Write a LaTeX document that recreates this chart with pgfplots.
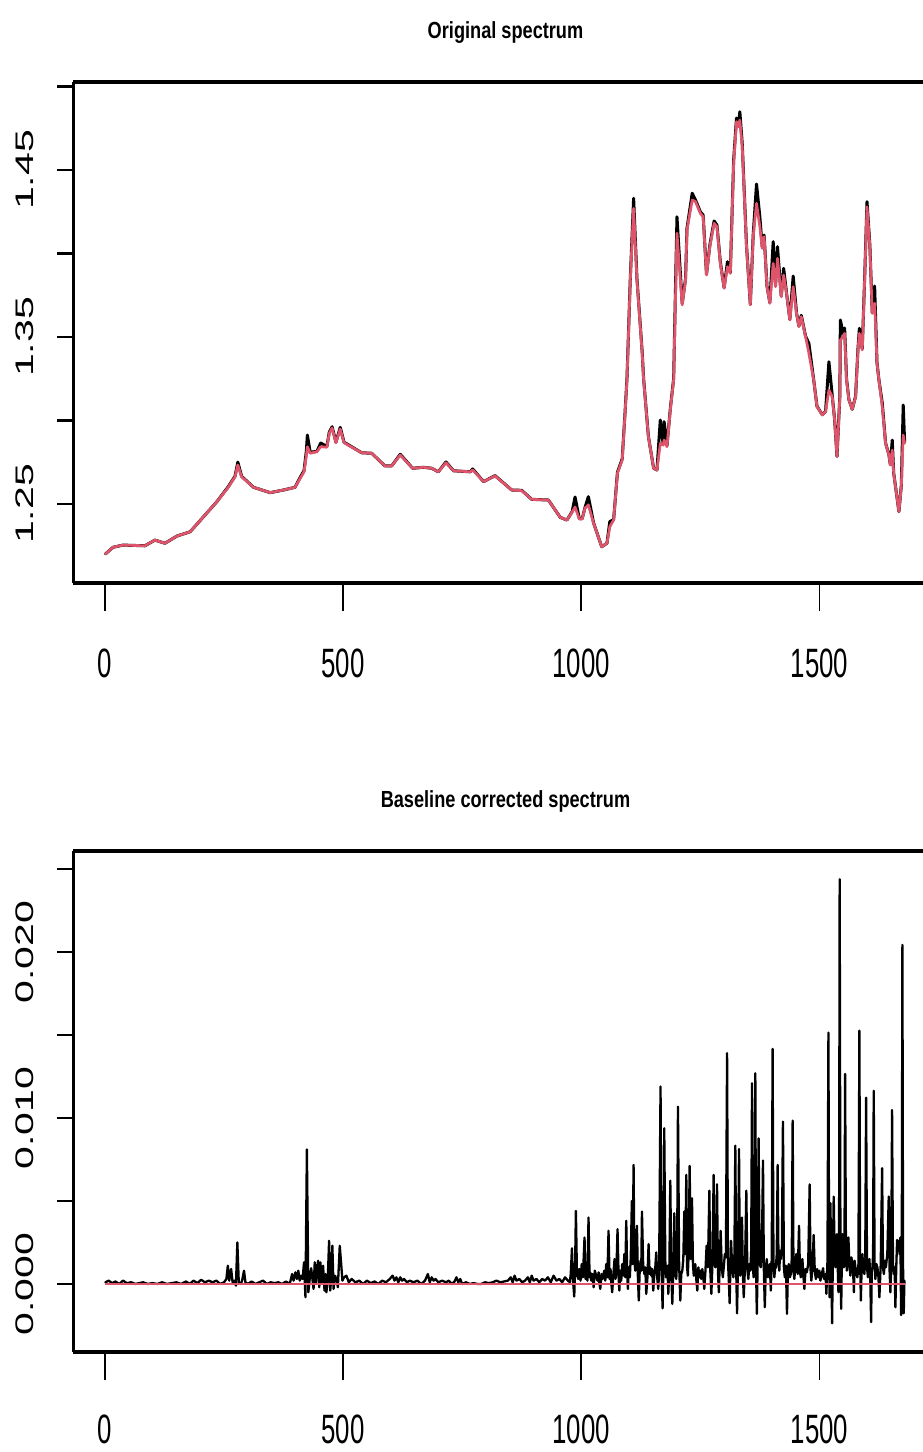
\documentclass[border=0pt]{standalone}
\usepackage{fontspec}
\setmainfont{Liberation Sans}
\usepackage{graphicx}
\usepackage{pgfplots}
\usepackage{pgfplotstable}
\pgfplotsset{compat=1.18}
\definecolor{rred}{HTML}{DF536B}
\newcommand{\xl}[1]{\scalebox{0.63}[1]{#1}}
\newcommand{\yl}[1]{\scalebox{1}[0.62]{#1}}
\newcommand{\ttl}[1]{\scalebox{0.78}[1]{\bfseries #1}}

\pgfplotstableread{
x r b
1 1.2201 1.2201
17 1.2241 1.2241
38 1.2254 1.2254
84 1.2250 1.2250
105 1.2284 1.2284
126 1.2265 1.2265
151 1.2308 1.2308
179 1.2334 1.2334
207 1.2424 1.2424
235 1.2514 1.2514
259 1.2600 1.2604
273 1.2663 1.2666
279 1.2734 1.2751
287 1.2663 1.2666
312 1.2600 1.2600
347 1.2568 1.2568
375 1.2584 1.2584
399 1.2600 1.2600
410 1.2654 1.2660
418 1.2693 1.2700
423 1.2793 1.2820
425 1.2843 1.2913
431 1.2804 1.2810
445 1.2813 1.2815
453 1.2843 1.2865
466 1.2840 1.2845
471 1.2923 1.2930
477 1.2955 1.2963
485 1.2867 1.2870
494 1.2949 1.2959
502 1.2867 1.2870
522 1.2834 1.2836
539 1.2807 1.2807
560 1.2804 1.2804
588 1.2728 1.2728
602 1.2728 1.2728
620 1.2793 1.2798
646 1.2714 1.2714
669 1.2720 1.2720
686 1.2714 1.2714
700 1.2693 1.2693
716 1.2747 1.2752
732 1.2699 1.2699
767 1.2693 1.2693
772 1.2704 1.2710
795 1.2634 1.2634
819 1.2668 1.2670
854 1.2584 1.2584
875 1.2580 1.2582
896 1.2528 1.2528
931 1.2524 1.2524
956 1.2420 1.2420
970 1.2404 1.2404
981 1.2452 1.2455
987 1.2482 1.2542
996 1.2410 1.2412
1002 1.2410 1.2412
1008 1.2476 1.2480
1015 1.2494 1.2544
1026 1.2384 1.2386
1043 1.2244 1.2244
1054 1.2265 1.2265
1060 1.2364 1.2395
1068 1.2404 1.2406
1076 1.2684 1.2690
1086 1.2763 1.2770
1092 1.3043 1.3050
1096 1.3243 1.3250
1103 1.3841 1.3850
1110 1.4271 1.4331
1117 1.3841 1.3850
1128 1.3402 1.3410
1131 1.3243 1.3250
1141 1.2903 1.2905
1152 1.2714 1.2714
1159 1.2704 1.2704
1166 1.2863 1.3003
1172 1.2853 1.2860
1174 1.2883 1.2993
1180 1.2843 1.2850
1187 1.3063 1.3070
1194 1.3243 1.3250
1201 1.4121 1.4220
1212 1.3692 1.3700
1219 1.3841 1.3850
1222 1.4141 1.4150
1233 1.4320 1.4361
1240 1.4310 1.4320
1250 1.4241 1.4250
1256 1.4220 1.4230
1263 1.3871 1.3875
1270 1.4041 1.4050
1279 1.4181 1.4195
1285 1.4161 1.4170
1292 1.3941 1.3950
1300 1.3792 1.3795
1307 1.3921 1.3951
1313 1.3881 1.3885
1320 1.4540 1.4560
1326 1.4789 1.4811
1330 1.4759 1.4770
1333 1.4799 1.4849
1338 1.4640 1.4660
1347 1.4041 1.4050
1355 1.3692 1.3695
1361 1.4101 1.4110
1368 1.4301 1.4416
1375 1.4161 1.4220
1380 1.4031 1.4040
1384 1.4101 1.4111
1390 1.3801 1.3805
1396 1.3702 1.3705
1403 1.3941 1.4071
1408 1.3801 1.3810
1412 1.3971 1.4041
1420 1.3741 1.3745
1425 1.3871 1.3911
1431 1.3762 1.3765
1438 1.3602 1.3605
1445 1.3801 1.3865
1452 1.3642 1.3645
1457 1.3562 1.3565
1462 1.3622 1.3630
1471 1.3502 1.3505
1478 1.3402 1.3462
1488 1.3243 1.3245
1495 1.3083 1.3085
1506 1.3033 1.3035
1513 1.3053 1.3055
1520 1.3183 1.3352
1527 1.3143 1.3150
1532 1.3003 1.3005
1537 1.2783 1.2785
1543 1.3143 1.3150
1544 1.3482 1.3602
1550 1.3502 1.3520
1553 1.3522 1.3554
1557 1.3243 1.3250
1562 1.3123 1.3125
1569 1.3067 1.3067
1576 1.3143 1.3145
1581 1.3422 1.3430
1584 1.3522 1.3552
1590 1.3422 1.3430
1595 1.3841 1.3850
1600 1.4280 1.4310
1606 1.4041 1.4050
1611 1.3642 1.3645
1616 1.3702 1.3805
1621 1.3343 1.3345
1625 1.3243 1.3245
1632 1.3083 1.3105
1639 1.2863 1.2865
1646 1.2793 1.2795
1649 1.2734 1.2736
1653 1.2823 1.2883
1656 1.2684 1.2686
1667 1.2454 1.2454
1672 1.2604 1.2610
1676 1.2913 1.3093
1679 1.2863 1.2870
}\topdata

\pgfplotstableread{
x y
1 0.0001
8 0.0002
15 0.00005
22 0.00015
30 0.0
38 0.0002
46 0.00005
55 0.0001
64 0.0
72 0.00005
80 0.0001
90 0.0
100 0.00005
110 0.0
120 0.0001
130 0.0
140 0.00005
150 0.0001
160 0.0
170 0.00015
178 0.0
186 0.0002
194 0.00005
202 0.00025
210 0.0001
218 0.0002
226 0.0001
234 0.0002
242 0.0
250 0.0001
255 0.0003
258 0.0011
261 0.0002
265 0.0009
268 0.0001
272 0.0002
275 -0.0001
278 0.0025
281 0.0001
285 0.0
288 0.0002
292 0.0008
295 0.0001
300 0.0
308 0.00015
316 0.0
324 0.0001
332 0.0002
340 0.0
348 0.0001
356 0.00005
364 0.0001
372 0.0
380 0.00015
388 0.0
393 0.0006
396 0.0002
400 0.0007
403 0.0003
406 0.0008
409 0.0002
412 0.0005
415 0.0003
418 0.0013
421 -0.0008
424 0.0081
427 -0.0005
430 0.0003
433 0.00095
436 0.0002
438 -0.0003
440.5 0.0013
443 0.0
445 0.0008
447.5 0.0014
450 -0.0002
452.4 0.0013
455 0.0001
458 0.0011
461 -0.0004
463 0.0006
465 -0.0005
468 0.0004
470.6 0.0026
473 -0.0004
475 0.0003
477.5 0.0023
480 -0.0003
483 0.0005
486 0.0003
489 -0.0002
493 0.0023
496 0.0012
498.6 0.0002
502 0.0004
507 0.0005
512 0.0001
518 0.0003
526 0.0001
534 0.0002
542 0.0
550 0.0002
558 0.00005
566 0.00015
574 0.0
582 0.0002
590 0.0001
598 0.0003
604 0.0005
608 0.0002
612 0.0004
616 0.0001
620 0.0004
624 0.0002
628 0.0003
634 0.0001
640 0.0002
648 0.0001
656 0.0002
664 0.0
672 0.0002
678 0.0006
682 0.0001
686 0.0004
690 0.0002
694 0.0003
700 0.0001
708 0.0002
716 0.0001
722 0.0002
728 0.0
734 0.00015
738 0.0004
742 0.0001
746 0.0003
750 0.0
758 0.0001
766 0.0
774 0.00005
782 0.0
790 0.0
798 0.0001
806 0.00005
814 0.0001
822 0.0002
830 0.0001
838 0.00015
846 0.0002
852 0.0004
856 0.0001
860 0.0005
864 0.0002
870 0.0003
876 0.0001
882 0.0002
888 0.0004
892 0.0001
896 0.0005
900 0.0002
906 0.0003
912 0.0001
918 0.0003
924 0.0002
930 0.0004
936 0.0001
942 0.0005
948 0.0002
954 0.0003
960 0.0001
966 0.0004
972 0.0002
976 0.0001
978 0.0006
980.5 0.00215
982.5 0.0003
985.3 -0.00076
987 0.0008
988.8 0.0044
991 0.0006
993.7 0.0003
996 0.0009
998.5 0.0002
1001 0.0012
1003.5 0.0004
1006.9 0.0028
1009 0.0003
1011 0.0007
1013 0.0002
1015.3 0.0040
1017.5 0.0004
1019 0.0007
1021 0.0002
1023.5 0.0006
1026 -0.0002
1028.5 0.0008
1031.5 0.0005
1034 0.0002
1036.5 0.0007
1038 0.0001
1040 -0.0003
1042.5 0.0006
1045 0.0003
1048.3 0.0008
1050.5 0.0002
1052.5 0.0012
1055 0.0004
1057.3 0.0032
1059.5 0.0003
1061.5 0.0009
1063 0.0001
1065 -0.0005
1067.5 0.0006
1070 0.0015
1072 0.0003
1074 0.0009
1076.2 0.0033
1078.5 0.0004
1080 -0.0004
1081.9 0.0008
1084 0.0002
1086 0.0012
1088.5 0.0005
1090.5 0.0018
1092.5 0.0004
1094.5 0.0038
1096.5 0.0006
1098 -0.0003
1099.8 0.0010
1102 0.0004
1104 0.0016
1106.3 0.0050
1108 0.0012
1109.9 0.00717
1111.5 0.0015
1113.4 0.0008
1115 0.0012
1117 0.0035
1119 0.0004
1120.8 -0.0010
1122.5 0.0006
1124.5 0.0014
1126 0.0008
1127.5 0.00436
1130 0.0012
1132.3 0.0006
1134.5 0.0010
1136.5 -0.0006
1139 0.0004
1141.4 0.0024
1143.5 0.0006
1145 0.0010
1147 0.0005
1149 0.0009
1151.2 -0.0004
1153.5 0.0006
1155.5 0.0010
1157.5 0.0019
1159.5 0.0004
1161.7 -0.0003
1163.5 0.0008
1166.5 0.01189
1168.5 0.0012
1170.8 -0.00147
1172.5 0.0010
1174.3 0.00938
1176.5 0.0014
1178 0.0004
1179.6 0.0005
1181 0.0011
1182.8 -0.0006
1185 0.0009
1187 0.00622
1189 0.0008
1191.2 -0.0012
1193.5 0.0010
1195.4 0.00426
1197.5 0.0006
1199.5 0.0003
1201.3 0.0015
1203.1 0.01068
1205.5 0.0012
1208 -0.0010
1210 0.0006
1212.2 0.0008
1214.3 0.0015
1216.4 0.00436
1218.5 0.0018
1220.6 0.00657
1222.3 0.0010
1223.8 0.0005
1225.7 0.0020
1227.6 0.00711
1230 0.0015
1232.5 0.00516
1234.5 0.0012
1236.3 0.0005
1238 0.0009
1239.5 0.0012
1241.5 0.0003
1243.7 -0.0004
1246 0.0010
1248 0.0004
1250 0.0008
1252 0.0003
1254.2 0.0009
1256.3 0.0004
1258.4 -0.0003
1260.8 0.0008
1263.2 0.0023
1266 0.0010
1269 0.00562
1271 0.0008
1273.2 -0.0006
1275.5 0.0012
1278 0.00657
1279.8 0.0015
1281.5 0.0010
1283.3 0.0020
1285.1 0.0060
1287 0.0008
1288.9 -0.0005
1290.8 0.0012
1292.7 0.0032
1295 0.0010
1297.3 0.0004
1299.5 0.0011
1301.5 0.0018
1303.8 0.0016
1306.2 0.0139
1308 0.0014
1309.9 0.0002
1311.6 -0.00116
1313 0.0008
1314.6 0.0026
1317 0.0009
1319.5 0.0004
1321.5 0.0015
1323.5 0.00833
1325.3 0.0010
1327.1 -0.00177
1329.2 0.0012
1331.3 0.00813
1332.8 0.0015
1334 0.0005
1335.8 0.0014
1337.5 0.0040
1339.4 0.0006
1341.2 -0.0008
1344 0.0012
1346.6 0.00562
1348.7 0.0009
1350.8 0.0003
1353 0.0012
1355 0.0008
1356.8 0.0020
1358.6 0.01209
1360.3 0.0010
1362 0.0004
1363.8 0.0018
1365.5 0.01269
1367 0.0010
1368.7 -0.0018
1370.5 0.0015
1372.4 0.00877
1374.7 0.0012
1377 0.0010
1379.3 0.0020
1381.6 0.00743
1383.5 0.0008
1385.4 -0.0014
1387.5 0.0009
1389.6 0.0015
1391.7 0.0004
1393.8 0.0008
1396 0.0012
1398 -0.0004
1400 0.0016
1401.8 0.01416
1403.6 0.0012
1405.4 0.0004
1407 0.0009
1408.6 0.0010
1410.5 0.0018
1412.4 0.00717
1414.2 0.0012
1415.9 0.0008
1417.5 0.0020
1419.1 0.0015
1421.3 0.0022
1423.5 0.00978
1425.5 0.0010
1427.4 0.0004
1429.7 0.0011
1432 -0.0018
1434 0.0009
1435.8 0.0012
1438 0.0004
1440 0.0006
1442 0.0015
1443.9 0.00984
1445.6 0.0008
1447.4 0.0003
1449.5 0.0010
1451.6 0.0018
1454.5 0.0006
1457.3 0.0035
1459.2 0.0007
1461.1 0.0004
1462.7 0.0010
1464.3 0.0015
1466.4 0.0005
1468.5 -0.0003
1471 0.0009
1473.7 0.0007
1476.5 0.0012
1479.6 0.0060
1481.4 0.0009
1483.1 0.0002
1485.5 0.0010
1488 0.00295
1490.3 0.0008
1492.6 0.0003
1495.2 0.0009
1497.9 0.0004
1500 0.0008
1502.1 0.0002
1505 0.0006
1507.8 0.00095
1509.7 0.0003
1511.6 0.0003
1513 0.0006
1514.7 -0.0006
1517 0.0014
1519 0.01514
1520.3 0.0020
1521.5 -0.0008
1522.3 0.0015
1523.1 0.00486
1525 0.0012
1526.7 -0.00237
1528.4 0.0018
1530.1 0.00526
1531.9 0.0020
1533.7 0.0010
1535.2 0.0022
1536.8 0.0030
1538.4 0.0012
1540 -0.0005
1541.3 0.0018
1542.6 0.02438
1544.2 0.0020
1545.8 -0.0015
1547 0.0012
1548.3 0.0030
1550 0.0016
1551.5 0.0010
1552.8 0.0025
1554 0.01265
1555.8 0.0018
1557.7 0.0008
1559.3 0.0014
1560.9 0.0028
1563 0.0012
1565.1 0.0005
1567.2 0.0016
1569.3 0.0012
1571 0.0006
1572.5 -0.0005
1574 0.0014
1575.6 0.0010
1577.7 0.0006
1579.8 0.0004
1582 0.0012
1584 0.01526
1585.5 0.0015
1587.1 -0.0010
1588.7 0.0010
1590.3 0.0018
1592.4 0.0008
1594.5 0.0006
1596.3 0.0016
1598.1 0.01122
1600 0.0010
1601.9 0.0004
1603.5 0.0012
1605 0.0015
1606.8 0.0005
1608.6 -0.0023
1610 0.0008
1611.4 0.0010
1612.8 0.0018
1614.1 0.01164
1615.9 0.0010
1617.6 0.0003
1619.7 0.0012
1621.8 0.0010
1624 0.0004
1626 -0.0008
1628.8 0.0012
1631.7 0.00697
1633.5 0.0010
1635.4 0.0006
1637.5 0.0014
1639.6 0.0010
1642.6 0.0018
1645.6 0.00526
1647.4 0.0008
1649.1 -0.0005
1650.9 0.0012
1652.6 0.01048
1654.5 0.0012
1656.4 0.0006
1658 0.0010
1659.6 -0.0014
1661.4 0.0010
1663.2 0.00265
1665 0.0020
1667 0.0026
1668.5 0.0018
1670.1 0.0028
1671.6 -0.00187
1673 0.0020
1674.3 0.02042
1675.7 0.0010
1677.1 -0.00177
1678.5 0.0002
}\botdata

\pgfplotsset{rbase/.style={
  scale only axis, width=864pt, height=501pt, xmin=-66, xmax=1748,
  separate axis lines,
  x axis line style={line width=3.2pt},
  y axis line style={line width=2.2pt},
  tick align=outside,
  xtick pos=bottom, ytick pos=left,
  minor tick num=0,
  scaled ticks=false,
  xtick={0,500,1000,1500},
  xticklabels={\xl{0},\xl{500},\xl{1000},\xl{1500}},
  xtick style={line width=1.5pt, black, /pgfplots/major tick length=28pt},
  ytick style={line width=2.2pt, black, /pgfplots/major tick length=16pt},
  xticklabel style={font=\fontsize{41}{41}\selectfont, anchor=base, inner sep=0pt, yshift=-90pt},
  yticklabel style={font=\fontsize{41}{41}\selectfont, xshift=-35pt, rotate=90, anchor=south, inner sep=0pt},
  title style={font=\fontsize{23.3}{24}\selectfont, anchor=base, at={(0.5,1)}, yshift=37.7pt, inner sep=0pt},
  clip=true,
}}

\begin{document}
\begin{tikzpicture}
\path[use as bounding box] (0,0) rectangle (923pt,-1452pt);
\begin{axis}[rbase,
  at={(73.5pt,-583pt)}, anchor=south west,
  ymin=1.2027, ymax=1.5027,
  ytick={1.25,1.30,1.35,1.40,1.45,1.50},
  yticklabels={\yl{1.25},,\yl{1.35},,\yl{1.45},},
  title={\ttl{Original spectrum}}]
\addplot[black, line width=3.0pt, line join=round, line cap=round] table[x=x, y=b] {\topdata};
\addplot[rred, line width=2.7pt, line join=round, line cap=round] table[x=x, y=r] {\topdata};
\end{axis}
\begin{axis}[rbase,
  at={(73.5pt,-1352pt)}, anchor=south west,
  ymin=-0.0041, ymax=0.02608,
  ytick={0,0.005,0.010,0.015,0.020,0.025},
  yticklabels={\yl{0.000},,\yl{0.010},,\yl{0.020},},
  xticklabel style={yshift=2.5pt},
  title={\ttl{Baseline corrected spectrum}}]
\addplot[black, line width=2.3pt, line join=round, line cap=round] table[x=x, y=y] {\botdata};
\addplot[rred, line width=2.8pt] coordinates {(1,0) (1679,0)};
\end{axis}
\end{tikzpicture}
\end{document}
